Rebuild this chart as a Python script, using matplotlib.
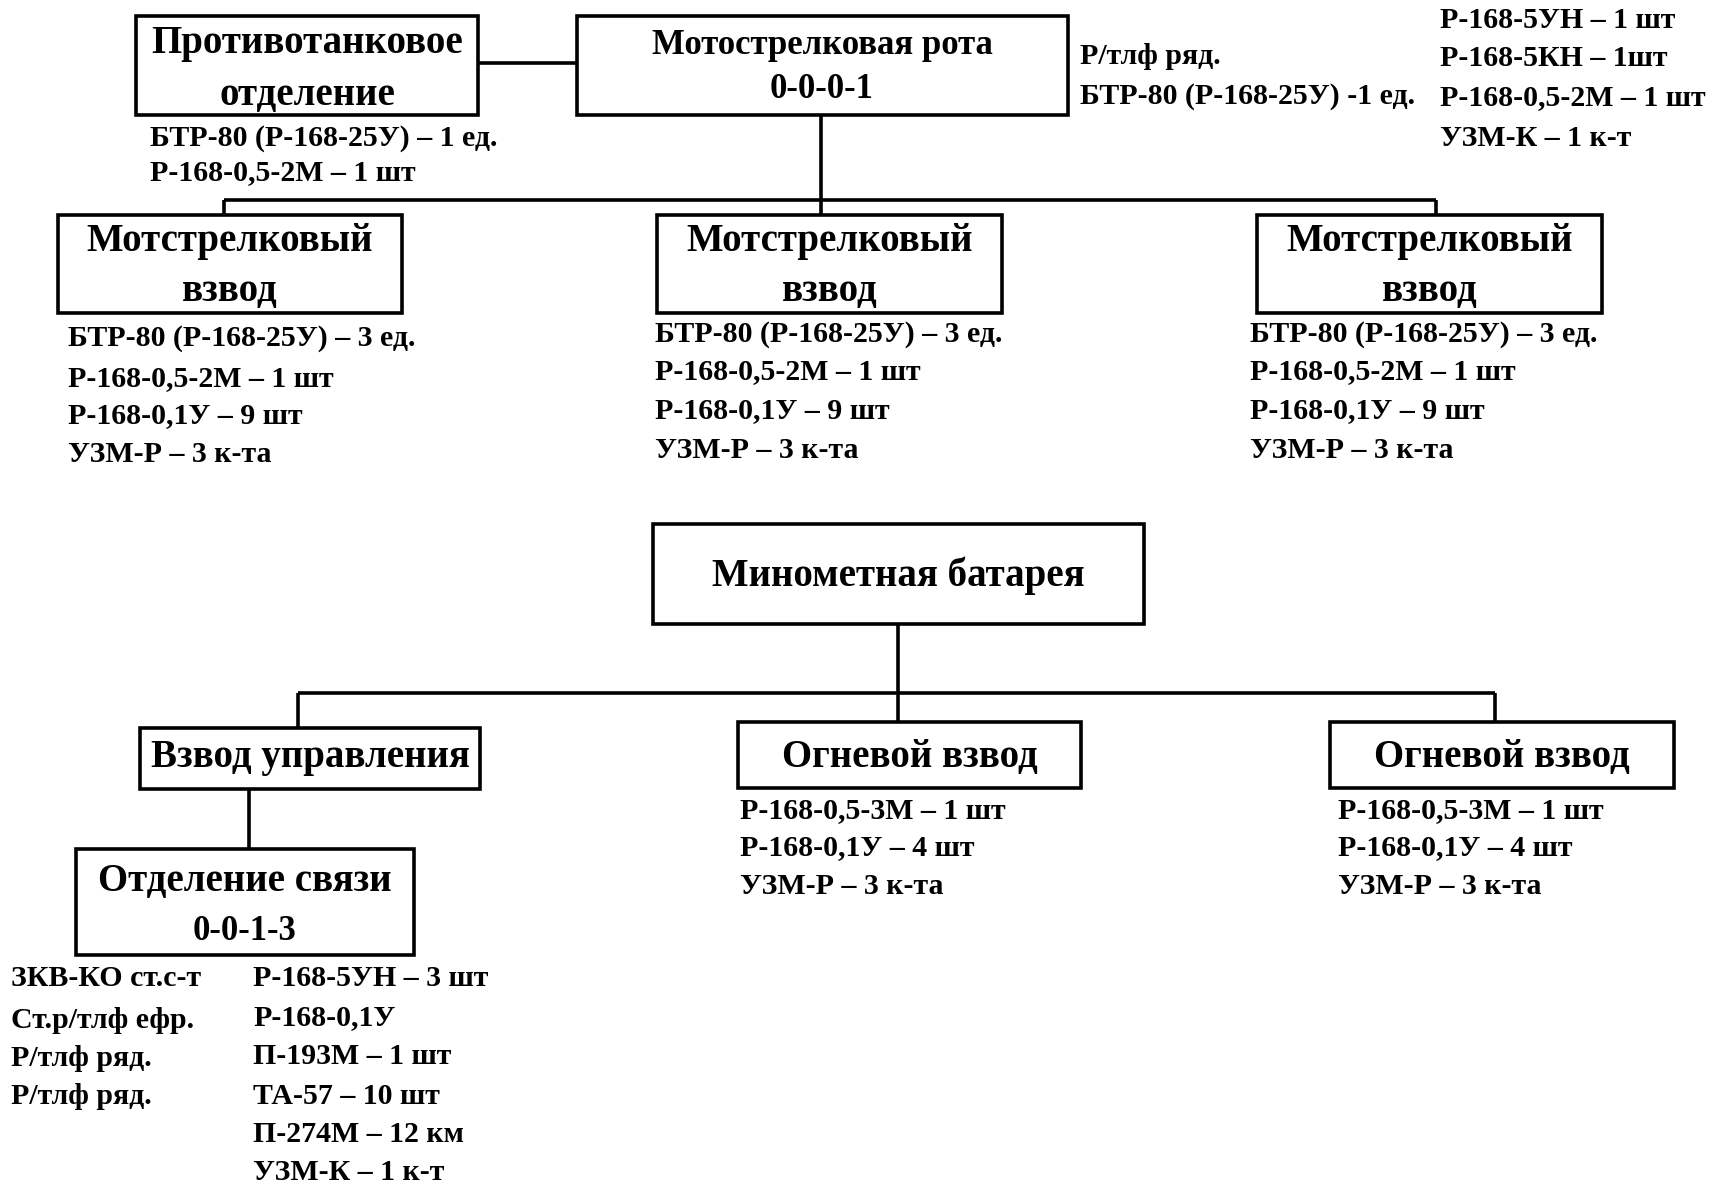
import matplotlib
matplotlib.use("Agg")
import matplotlib.pyplot as plt
from matplotlib.patches import Rectangle

plt.rcParams['font.family'] = ['Liberation Serif', 'DejaVu Serif']

# ---- texts ----
at_title = ["Противотанковое", "отделение"]
at_items = ["БТР-80 (Р-168-25У) – 1 ед.", "Р-168-0,5-2М – 1 шт"]
company_title = ["Мотострелковая рота", "0-0-0-1"]
company_side = ["Р/тлф ряд.", "БТР-80 (Р-168-25У) -1 ед."]
company_radio = ["Р-168-5УН – 1 шт", "Р-168-5КН – 1шт", "Р-168-0,5-2М – 1 шт", "УЗМ-К – 1 к-т"]
platoon_title = ["Мотстрелковый", "взвод"]
platoon_items = ["БТР-80 (Р-168-25У) – 3 ед.", "Р-168-0,5-2М – 1 шт", "Р-168-0,1У – 9 шт", "УЗМ-Р – 3 к-та"]
battery_title = "Минометная батарея"
ctrl_title = "Взвод управления"
fire_title = "Огневой взвод"
fire_items = ["Р-168-0,5-3М – 1 шт", "Р-168-0,1У – 4 шт", "УЗМ-Р – 3 к-та"]
signal_title = ["Отделение связи", "0-0-1-3"]
signal_staff = ["ЗКВ-КО ст.с-т", "Ст.р/тлф ефр.", "Р/тлф ряд.", "Р/тлф ряд."]
signal_items = ["Р-168-5УН – 3 шт", "Р-168-0,1У", "П-193М – 1 шт", "ТА-57 – 10 шт", "П-274М – 12 км", "УЗМ-К – 1 к-т"]

W, H = 1711, 1186
fig = plt.figure(figsize=(W / 100, H / 100), dpi=100)
ax = fig.add_axes([0, 0, 1, 1])
ax.set_xlim(0, W)
ax.set_ylim(H, 0)
ax.axis('off')

LW = 2.6


def box(x0, x1, y0, y1):
    ax.add_patch(Rectangle((x0, y0), x1 - x0, y1 - y0, fill=False, ec='black', lw=LW, zorder=3))


def line(xs, ys):
    ax.plot(xs, ys, color='black', lw=LW, solid_capstyle='butt', zorder=2)


def ctext(x, y, s, size, weight='bold'):
    ax.text(x, y, s, ha='center', va='center', fontsize=size, fontweight=weight, zorder=4)


def ltext(x, ys, lines, size, weight='bold'):
    for y, s in zip(ys, lines):
        ax.text(x, y, s, ha='left', va='center', fontsize=size, fontweight=weight, zorder=4)


TS = 28    # box title size
IS = 21.5  # item size

# top: anti-tank section and company
box(136, 478, 16, 115)
ctext(307, 43, at_title[0], TS)
ctext(307, 95, at_title[1], TS)
ltext(150, [138, 173], at_items, IS)
line([478, 577], [63, 63])

box(577, 1068, 16, 115)
ctext(822, 45, company_title[0], 25)
ctext(822, 89, company_title[1], 25)
ltext(1080, [56, 96], company_side, IS)
ltext(1440, [21, 59, 98, 138], company_radio, IS)

# connectors to platoons
line([821, 821], [115, 215])
line([224, 1436], [200, 200])
line([224, 224], [200, 215])
line([1436, 1436], [200, 215])

for x0, x1, tx in [(58, 402, 68), (657, 1002, 655), (1257, 1602, 1250)]:
    box(x0, x1, 215, 313)
    cx = (x0 + x1) / 2
    ctext(cx, 242, platoon_title[0], TS)
    ctext(cx, 292, platoon_title[1], TS)
    ys = [339, 379, 416, 455] if x0 < 100 else [334, 372, 411, 450]
    ltext(tx, ys, platoon_items, IS)

# mortar battery
box(653, 1144, 524, 624)
ctext(898, 576, battery_title, TS)
line([898, 898], [624, 722])
line([298, 1495], [693, 693])
line([298, 298], [693, 728])
line([1495, 1495], [693, 722])

box(140, 480, 728, 789)
ctext(310, 758, ctrl_title, TS)

for x0, x1, tx in [(738, 1081, 740), (1330, 1674, 1338)]:
    box(x0, x1, 722, 788)
    ctext((x0 + x1) / 2, 757, fire_title, TS)
    ltext(tx, [811, 848, 886], fire_items, IS)

line([249, 249], [789, 849])
box(76, 414, 849, 955)
ctext(245, 882, signal_title[0], TS)
ctext(245, 931, signal_title[1], 25)
ltext(11, [979, 1020, 1058, 1097], signal_staff, IS)
ltext(253, [979, 1018, 1056, 1096, 1135, 1173], signal_items, IS)

fig.savefig("out.png", dpi=100, facecolor='white')
